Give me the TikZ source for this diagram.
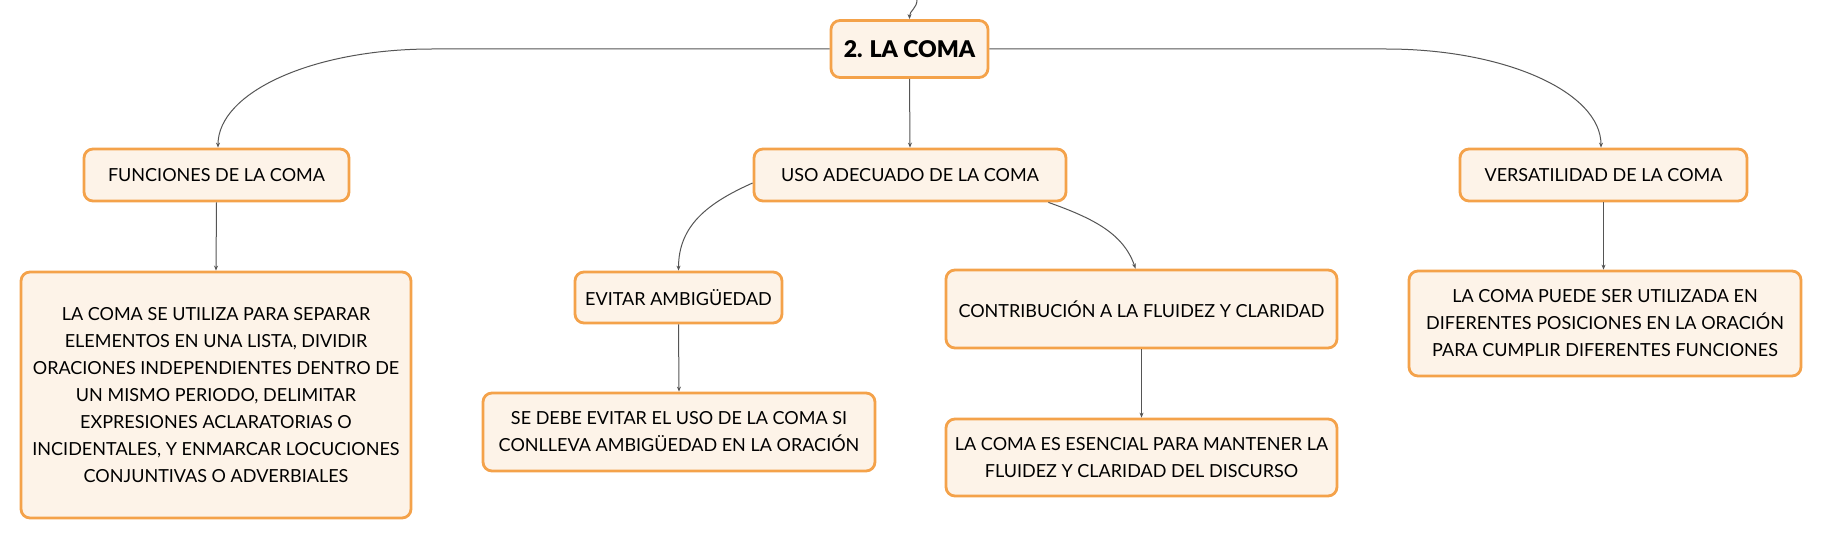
\documentclass[tikz,border=0pt]{standalone}
\usepackage{fontspec}
\setmainfont{Lato}
\newfontfamily\heavyfont{Lato Black}
\usetikzlibrary{arrows.meta,calc}
\definecolor{boxfill}{HTML}{FDF3E8}
\definecolor{boxline}{HTML}{F4A24A}
\definecolor{connc}{HTML}{555555}
\tikzset{
  cbox/.style={draw=boxline, fill=boxfill, line width=2.8pt, rounded corners=9pt,
    inner sep=0pt, align=center, font=\fontsize{18}{27}\selectfont},
  mainbox/.style={cbox, font=\fontsize{23}{27}\selectfont\heavyfont},
  conn/.style={draw=connc, line width=1pt, -{Stealth[length=5pt,width=4pt]}}
}
\begin{document}
\begin{tikzpicture}[x=1pt,y=-1pt]
\useasboundingbox[fill=white] (0,0) rectangle (1821,540);
% nodes
\node[mainbox, minimum width=157pt, minimum height=57pt] (c) at (909.5,49) {2. LA COMA};
\node[cbox, minimum width=265pt, minimum height=52pt] (f) at (216.5,175) {FUNCIONES DE LA COMA};
\node[cbox, minimum width=312pt, minimum height=52pt] (u) at (910,175) {USO ADECUADO DE LA COMA};
\node[cbox, minimum width=287pt, minimum height=52pt] (v) at (1603.5,175) {VERSATILIDAD DE LA COMA};
\node[cbox, minimum width=390pt, minimum height=246pt] (fd) at (216,395)
  {LA COMA SE UTILIZA PARA SEPARAR\\ELEMENTOS EN UNA LISTA, DIVIDIR\\ORACIONES INDEPENDIENTES DENTRO DE\\UN MISMO PERIODO, DELIMITAR\\EXPRESIONES ACLARATORIAS O\\INCIDENTALES, Y ENMARCAR LOCUCIONES\\CONJUNTIVAS O ADVERBIALES};
\node[cbox, minimum width=207pt, minimum height=51pt] (e) at (678.5,297.5) {EVITAR AMBIGÜEDAD};
\node[cbox, minimum width=392pt, minimum height=78pt] (ed) at (679,432)
  {SE DEBE EVITAR EL USO DE LA COMA SI\\CONLLEVA AMBIGÜEDAD EN LA ORACIÓN};
\node[cbox, minimum width=391pt, minimum height=78pt] (k) at (1141.5,309) {CONTRIBUCIÓN A LA FLUIDEZ Y CLARIDAD};
\node[cbox, minimum width=391pt, minimum height=77pt] (kd) at (1141.5,457.5)
  {LA COMA ES ESENCIAL PARA MANTENER LA\\FLUIDEZ Y CLARIDAD DEL DISCURSO};
\node[cbox, minimum width=392pt, minimum height=105pt] (vd) at (1605,323.5)
  {LA COMA PUEDE SER UTILIZADA EN\\DIFERENTES POSICIONES EN LA ORACIÓN\\PARA CUMPLIR DIFERENTES FUNCIONES};
% coordinates
\coordinate (topin) at (917,0);
\coordinate (bendL) at (432,49);
\coordinate (bendR) at (1386,49);
% connectors
\draw[conn] (topin) .. controls +(0,8) and +(0,-8) .. (c.north);
\draw[conn] (c.west) -- (bendL) .. controls +(-120,0) and +(0,-55) .. ($(f.north)+(1.5,0)$);
\draw[conn] (c.south) -- (u.north);
\draw[conn] (c.east) -- (bendR) .. controls +(120,0) and +(0,-55) .. ($(v.north)+(-2.5,0)$);
\draw[conn] (f.south) -- (fd.north);
\draw[conn] ($(u.west)+(0,8)$) .. controls +(-45,20) and +(0,-45) .. (e.north);
\draw[conn] ($(u.south east)+(-19,0)$) .. controls +(45,16) and +(-12,-35) .. ($(k.north)+(-6,0)$);
\draw[conn] (e.south) -- (ed.north);
\draw[conn] (k.south) -- (kd.north);
\draw[conn] (v.south) -- (v.south |- vd.north);
\end{tikzpicture}
\end{document}
